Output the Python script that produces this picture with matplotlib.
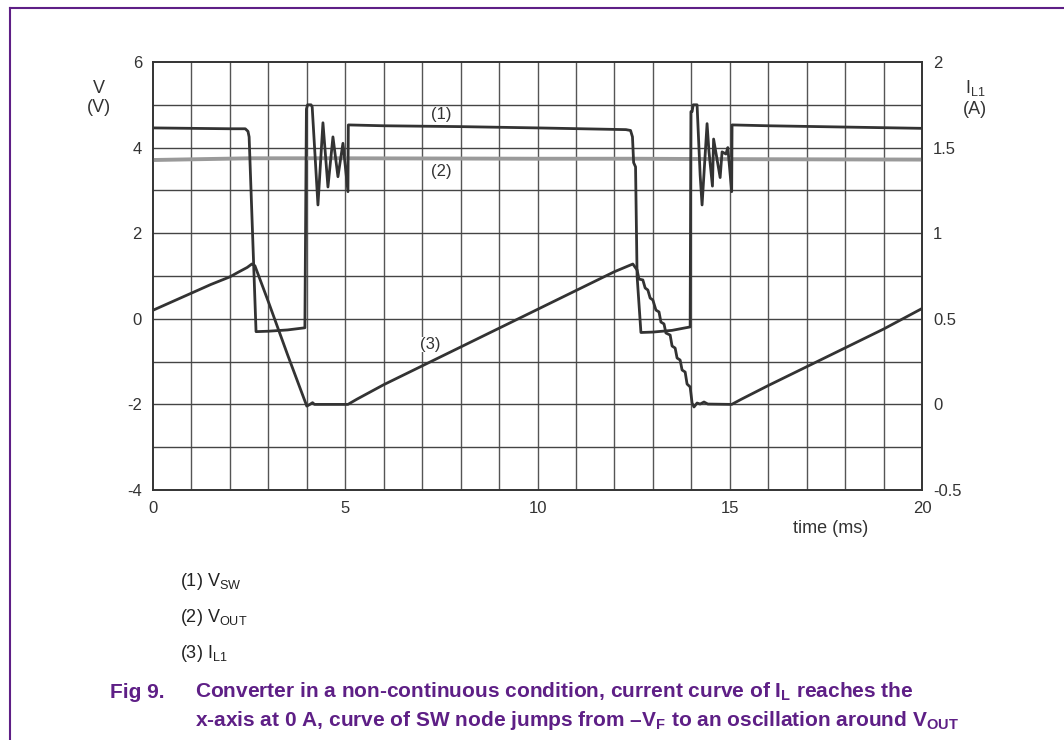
import matplotlib
matplotlib.use('Agg')
import matplotlib.pyplot as plt
from matplotlib.lines import Line2D

plt.rcParams['font.family'] = ['Liberation Sans', 'DejaVu Sans']
plt.rcParams['mathtext.fontset'] = 'custom'
plt.rcParams['mathtext.rm'] = 'Liberation Sans'
plt.rcParams['mathtext.bf'] = 'Liberation Sans:bold'

# (1) V_SW, switching node voltage (V)
vsw_t = [0, 1.0, 2.0, 2.40, 2.47, 2.50, 2.68, 3.0, 3.5, 3.95, 3.99, 4.02, 4.11, 4.14,
         4.29, 4.42, 4.55, 4.68, 4.81, 4.94, 5.07, 5.08, 6.0, 8.0, 10.0, 12.30, 12.42,
         12.47, 12.50, 12.55, 12.59, 12.69, 13.0, 13.5, 13.97, 13.99, 14.02, 14.05,
         14.15, 14.23, 14.28, 14.41, 14.46, 14.55, 14.58, 14.75, 14.80, 14.90, 14.95,
         15.05, 15.06, 16.0, 18.0, 20.0]
vsw_v = [4.46, 4.45, 4.44, 4.44, 4.38, 4.25, -0.30, -0.29, -0.26, -0.21, 4.90, 5.0, 5.0, 4.95,
         2.66, 4.58, 3.08, 4.25, 3.32, 4.10, 2.97, 4.53, 4.51, 4.49, 4.46, 4.42, 4.40,
         4.25, 3.65, 3.55, 1.0, -0.32, -0.31, -0.27, -0.19, 4.84, 4.84, 5.0,
         5.0, 3.36, 2.66, 4.56, 3.90, 3.10, 4.20, 3.30, 3.90, 3.85, 4.00,
         2.97, 4.53, 4.51, 4.48, 4.45]

# (2) V_OUT (V)
vout_t = [0, 2.5, 5.0, 10.0, 12.5, 15.0, 20.0]
vout_v = [3.71, 3.75, 3.75, 3.74, 3.74, 3.73, 3.72]

# (3) I_L1 inductor current (A)
il_t = [0, 0.5, 1.0, 1.5, 2.0, 2.2, 2.45, 2.57, 2.65, 3.0, 3.5, 4.0, 4.08, 4.15, 4.2, 4.3,
        5.07, 5.3, 6.0, 7.0, 8.0, 9.0, 10.0, 11.0, 12.0, 12.48,
        12.59, 12.64, 12.74, 12.80, 12.87, 12.93, 13.00, 13.08, 13.16, 13.21, 13.29,
        13.34, 13.45, 13.50, 13.58, 13.63, 13.71, 13.76, 13.84, 13.89, 13.97, 14.02,
        14.07, 14.15, 14.23, 14.33, 14.43, 15.05, 15.3, 16.0, 17.0, 18.0, 19.0, 20.0]
il_a = [0.55, 0.60, 0.65, 0.70, 0.745, 0.77, 0.80, 0.82, 0.81, 0.60, 0.29, -0.01, 0.0, 0.01, 0.0, 0.0,
        0.0, 0.03, 0.115, 0.225, 0.335, 0.445, 0.555, 0.665, 0.775, 0.82,
        0.785, 0.732, 0.727, 0.680, 0.668, 0.621, 0.610, 0.551, 0.540, 0.481, 0.470,
        0.417, 0.405, 0.341, 0.329, 0.271, 0.259, 0.201, 0.189, 0.119, 0.102, 0.008,
        -0.015, 0.008, 0.002, 0.014, 0.002, 0.0, 0.03, 0.11, 0.22, 0.33, 0.44, 0.56]

x_ticks = [0, 5, 10, 15, 20]
v_ticks = [-4, -2, 0, 2, 4, 6]
i_ticks = [-0.5, 0, 0.5, 1, 1.5, 2]
i_tick_labels = ['-0.5', '0', '0.5', '1', '1.5', '2']

purple = '#5e1f86'
dark = '#333333'

fig = plt.figure(figsize=(10.64, 7.40), dpi=100)
ax = fig.add_axes([153/1064, 1-490/740, 769/1064, 428/740])
ax2 = ax.twinx()

ax.set_xlim(0, 20)
ax.set_ylim(-4, 6)
ax2.set_ylim(-0.5, 2)

# grid every 1 ms / 1 V
for t in range(1, 20):
    ax.axvline(t, color='#555555', lw=1.0, zorder=1)
for v in range(-3, 6):
    ax.axhline(v, color='#444444', lw=1.0, zorder=1)

ax.plot(vout_t, vout_v, color='#9a9a9a', lw=2.8, zorder=3)
ax.plot(vsw_t, vsw_v, color=dark, lw=2.0, zorder=4, solid_joinstyle='round')
ax2.plot(il_t, il_a, color=dark, lw=2.0, zorder=4, solid_joinstyle='round')

ax.text(7.49, 4.77, '(1)', ha='center', va='center', fontsize=12, color=dark)
ax.text(7.49, 3.43, '(2)', ha='center', va='center', fontsize=12, color=dark)
ax2.text(7.22, 0.35, '(3)', ha='center', va='center', fontsize=12, color=dark,
         bbox=dict(facecolor='white', edgecolor='none', pad=0.3))

ax.set_xticks(x_ticks)
ax.set_xticklabels([str(x) for x in x_ticks])
ax.set_yticks(v_ticks)
ax.set_yticklabels([str(v) for v in v_ticks])
ax2.set_yticks(i_ticks)
ax2.set_yticklabels(i_tick_labels)
ax.tick_params(axis='x', length=0, labelsize=12, labelcolor=dark, pad=8)
ax.tick_params(axis='y', length=0, labelsize=12, labelcolor=dark, pad=8)
ax2.tick_params(length=0, labelsize=12, labelcolor=dark, pad=8)
for a in (ax, ax2):
    for s in a.spines.values():
        s.set_color('#333333')
        s.set_linewidth(1.2)

ax.text(0.881, -0.089, 'time (ms)', transform=ax.transAxes, ha='center', va='center',
        fontsize=13, color=dark)
fig.text(99/1064, 1-98/740, 'V\n(V)', ha='center', va='center', fontsize=13,
         color=dark, linespacing=1.1)
fig.text(975/1064, 1-88/740, r'I$_\mathregular{L1}$', ha='center', va='center',
         fontsize=13, color=dark)
fig.text(975/1064, 1-109/740, '(A)', ha='center', va='center', fontsize=13, color=dark)

# legend entries under the plot
fig.text(180/1064, 1-582/740, r'(1) V$_\mathregular{SW}$', ha='left', va='center',
         fontsize=13, color='#222222')
fig.text(180/1064, 1-618/740, r'(2) V$_\mathregular{OUT}$', ha='left', va='center',
         fontsize=13, color='#222222')
fig.text(180/1064, 1-653/740, r'(3) I$_\mathregular{L1}$', ha='left', va='center',
         fontsize=13, color='#222222')

# caption
fig.text(110/1064, 1-692/740, 'Fig 9.', ha='left', va='center', fontsize=15,
         fontweight='bold', color=purple)
fig.text(195/1064, 1-692/740,
         r'Converter in a non-continuous condition, current curve of I$_\mathbf{L}$ reaches the',
         ha='left', va='center', fontsize=15, fontweight='bold', color=purple)
fig.text(195/1064, 1-720/740,
         r'x-axis at 0 A, curve of SW node jumps from –V$_\mathbf{F}$ to an oscillation around V$_\mathbf{OUT}$',
         ha='left', va='center', fontsize=15, fontweight='bold', color=purple)

# page frame
fig.add_artist(Line2D([10/1064, 1.0], [1-8/740, 1-8/740], color=purple, lw=1.5,
                      transform=fig.transFigure))
fig.add_artist(Line2D([10/1064, 10/1064], [0.0, 1-8/740], color=purple, lw=1.5,
                      transform=fig.transFigure))

fig.savefig('out.png', dpi=100)
